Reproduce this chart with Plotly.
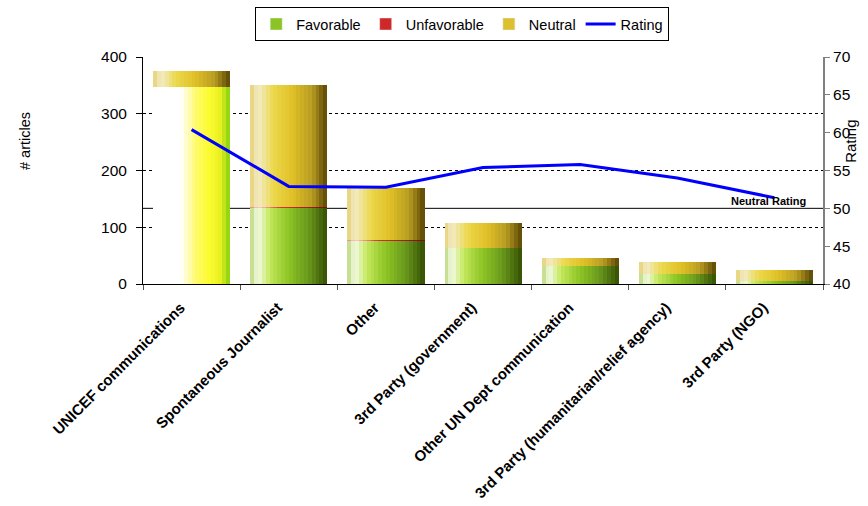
import plotly.graph_objects as go

categories = ["UNICEF communications", "Spontaneous Journalist", "Other",
              "3rd Party (government)", "Other UN Dept communication",
              "3rd Party (humanitarian/relief agency)", "3rd Party (NGO)"]
favorable = [347, 134, 77, 64, 32, 18, 6]
unfavorable = [0, 1, 1, 0, 0, 0, 0]
neutral = [28, 216, 92, 44, 14, 21, 18]
rating = [60.4, 52.9, 52.8, 55.4, 55.8, 54.0, 51.4]
neutral_rating = 50

FONT = "Arial, Liberation Sans, sans-serif"

def hex2rgb(h):
    h = h.lstrip('#')
    return tuple(int(h[i:i + 2], 16) for i in (0, 2, 4))

def interp(stops, t):
    for (p0, c0), (p1, c1) in zip(stops[:-1], stops[1:]):
        if p0 <= t <= p1:
            f = 0 if p1 == p0 else (t - p0) / (p1 - p0)
            a, b = hex2rgb(c0), hex2rgb(c1)
            return "rgb(%d,%d,%d)" % tuple(round(a[k] + (b[k] - a[k]) * f) for k in range(3))
    return stops[-1][1]

fav_stops = [(0, '#b8d878'), (0.1, '#f4fae6'), (0.25, '#c4e85a'), (0.5, '#8cc425'), (0.75, '#6a9a1c'), (1, '#355004')]
neu_stops = [(0, '#e8d070'), (0.1, '#f2ecc8'), (0.3, '#ecd84a'), (0.55, '#e0c028'), (0.8, '#b89c22'), (1, '#5a4604')]
unf_stops = [(0, '#e08080'), (0.1, '#f8d0d0'), (0.4, '#e03030'), (1, '#800808')]
uni_stops = [(0, '#ffffff'), (0.36, '#ffffff'), (0.55, '#fffa70'), (0.72, '#fcfc30'), (0.88, '#e8f020'), (1, '#80d010')]

W = 0.79
N = 20
step = W / N

fig = go.Figure()

fav_base = [0] * len(categories)
unf_base = favorable
neu_base = [f + u for f, u in zip(favorable, unfavorable)]

segments = [
    ("Favorable", favorable, fav_base, fav_stops, 1),
    ("Unfavorable", unfavorable, unf_base, unf_stops, 2),
    ("Neutral", neutral, neu_base, neu_stops, 3),
]
legend_cols = {"Favorable": "#8cc425", "Unfavorable": "#d02828", "Neutral": "#dcc030"}

for name, vals, base, stops, rank in segments:
    for i in range(N):
        t = (i + 0.5) / N
        col = interp(stops, t)
        colors = [col] * len(categories)
        if name == "Favorable":
            colors[0] = interp(uni_stops, t)
        fig.add_trace(go.Bar(
            x=categories, y=vals, base=base,
            width=step * 1.08, offset=-W / 2 + i * step,
            marker=dict(color=colors, line=dict(width=0)),
            name=name, legendgroup=name, showlegend=False,
            hoverinfo="skip",
        ))
    fig.add_trace(go.Bar(
        x=[None], y=[None], name=name, legendgroup=name, legendrank=rank,
        marker=dict(color=legend_cols[name]), showlegend=True,
    ))

fig.add_trace(go.Scatter(
    x=categories, y=rating, yaxis="y2", mode="lines", name="Rating",
    line=dict(color="#0000ff", width=3), legendrank=4,
))

fig.add_shape(type="line", xref="paper", x0=0, x1=1, yref="y2",
              y0=neutral_rating, y1=neutral_rating,
              line=dict(color="black", width=1), layer="below")

fig.add_annotation(text="<b>Neutral Rating</b>", xref="paper", x=0.978, xanchor="right",
                   yref="y2", y=neutral_rating, yanchor="bottom", showarrow=False,
                   font=dict(family=FONT, size=11, color="black"), yshift=-1)

fig.add_annotation(text="# articles", xref="paper", yref="paper", x=-0.1735, y=0.63,
                   xanchor="center", yanchor="middle",
                   textangle=-90, showarrow=False, font=dict(family=FONT, size=14.5, color="black"))
fig.add_annotation(text="Rating", xref="paper", yref="paper", x=1.041, y=0.63,
                   xanchor="center", yanchor="middle",
                   textangle=-90, showarrow=False, font=dict(family=FONT, size=15, color="black"))

fig.update_layout(
    width=868, height=506,
    margin=dict(l=143, r=45, t=57, b=222, autoexpand=False),
    paper_bgcolor="white", plot_bgcolor="white",
    barmode="overlay", bargap=0,
    font=dict(family=FONT, size=15, color="black"),
    showlegend=True,
    legend=dict(orientation="h", x=0.165, xanchor="left", y=0.986, yref="container",
                yanchor="top",
                bordercolor="black", borderwidth=1, bgcolor="white",
                font=dict(family=FONT, size=14.5), traceorder="normal",
                itemwidth=30),
    xaxis=dict(type="category", showline=True, linecolor="black", linewidth=1,
               ticks="outside", tickson="boundaries", ticklen=5, tickcolor="#555",
               tickangle=-45, ticklabelstandoff=8, ticklabelshift=-11,
               tickfont=dict(family=FONT, size=15, color="black", weight="bold"),
               showgrid=False, range=[-0.5, 6.5]),
    yaxis=dict(range=[0, 400], dtick=100, showline=True, linecolor="black", linewidth=1,
               ticks="outside", ticklen=6, tickcolor="black", ticklabelstandoff=6,
               showgrid=True, gridcolor="black", griddash="dot", gridwidth=1,
               zeroline=False, tickfont=dict(size=15.5)),
    yaxis2=dict(range=[40, 70], dtick=5, overlaying="y", side="right",
                showline=True, linecolor="#808080", linewidth=2,
                ticks="outside", ticklen=5, tickcolor="#808080",
                showgrid=False, zeroline=False, tickfont=dict(size=15.5)),
)

fig.write_html("out.html")
